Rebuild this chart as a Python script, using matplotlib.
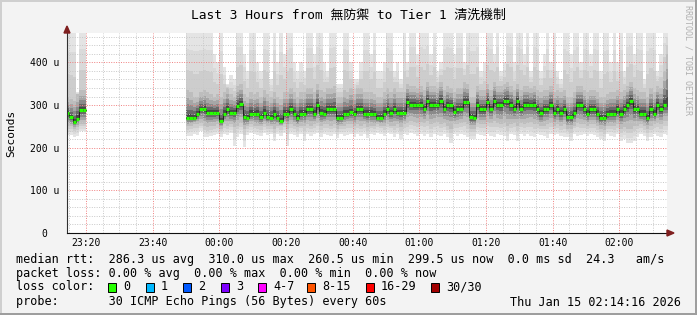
import matplotlib
matplotlib.use("Agg")
import matplotlib.pyplot as plt
import numpy as np
from matplotlib.patches import Rectangle, Polygon
from matplotlib.transforms import ScaledTranslation

MONO = ['DejaVu Sans Mono', 'Noto Sans CJK TC']

TITLE = "Last 3 Hours from 無防禦 to Tier 1 清洗機制"
WINDOW = ("23:14:16", "02:14:16")
X_LABELS = ["23:20", "23:40", "00:00", "00:20", "00:40", "01:00", "01:20", "01:40", "02:00"]
Y_TICKS = [0, 100, 200, 300, 400]          # microseconds
Y_LABELS = ["0", "100 u", "200 u", "300 u", "400 u"]

# one value per 60 s step, in microseconds
# run 1 (before the gap)
RUN1_START = "23:14"
RUN1_MED = [281, 271, 260, 268, 289, 289]
RUN1_LO = [230, 230, 225, 228, 240, 240]
RUN1_LO_MID = [250, 250, 245, 248, 255, 255]
RUN1_HI_MID = [320, 315, 310, 325, 335, 335]
RUN1_HI = [480, 480, 480, 330, 480, 480]

# run 2 (after the gap)
RUN2_START = "23:50"
RUN2_MED = [270, 270, 270, 280, 290, 290, 282, 282, 282, 282,
            262, 280, 290, 282, 282, 298, 302, 272, 270, 280,
            280, 280, 272, 282, 272, 270, 280, 270, 262, 280,
            280, 290, 280, 270, 280, 280, 290, 290, 280, 300,
            282, 280, 290, 290, 290, 270, 270, 280, 280, 283,
            280, 290, 290, 280, 280, 280, 280, 270, 270, 280,
            290, 282, 290, 282, 282, 282, 308, 300, 300, 300,
            300, 290, 310, 300, 300, 300, 310, 290, 300, 300,
            283, 290, 290, 308, 308, 271, 270, 300, 290, 290,
            308, 290, 310, 300, 300, 310, 310, 300, 290, 310,
            290, 300, 300, 300, 300, 290, 282, 290, 290, 300,
            282, 290, 282, 290, 271, 271, 282, 300, 300, 290,
            280, 290, 290, 280, 270, 270, 278, 280, 280, 290,
            280, 290, 300, 310, 290, 290, 280, 280, 270, 290,
            280, 300, 290, 300, 300]
RUN2_LO = [228, 228, 232, 230, 240, 225, 225, 228, 230, 232,
           225, 232, 230, 235, 205, 225, 232, 202, 230, 235,
           232, 230, 228, 235, 230, 232, 215, 232, 228, 235,
           203, 232, 230, 225, 232, 215, 232, 228, 232, 235,
           225, 232, 230, 228, 232, 222, 232, 228, 230, 232,
           225, 232, 228, 232, 222, 232, 230, 235, 232, 228,
           235, 232, 225, 232, 220, 232, 230, 235, 232, 228,
           232, 228, 232, 225, 232, 230, 228, 232, 225, 211,
           232, 228, 232, 230, 225, 220, 220, 232, 230, 228,
           232, 228, 225, 232, 230, 228, 215, 232, 230, 215,
           232, 228, 232, 228, 225, 232, 230, 228, 222, 232,
           230, 232, 228, 225, 225, 215, 232, 228, 230, 232,
           228, 232, 230, 225, 220, 215, 232, 228, 225, 232,
           215, 220, 211, 210, 215, 225, 232, 228, 215, 225,
           232, 228, 225, 232, 230]
RUN2_LO_MID = [250, 252, 255, 255, 258, 250, 248, 250, 252, 255,
               245, 255, 252, 255, 248, 252, 258, 245, 250, 255,
               252, 250, 250, 255, 252, 250, 245, 252, 250, 255,
               245, 255, 252, 248, 252, 250, 255, 252, 255, 258,
               250, 255, 255, 252, 255, 245, 250, 252, 255, 255,
               250, 255, 252, 255, 248, 252, 250, 255, 252, 250,
               255, 252, 250, 255, 248, 255, 258, 262, 260, 258,
               260, 258, 262, 255, 258, 260, 255, 258, 250, 245,
               255, 255, 258, 260, 255, 245, 245, 258, 255, 255,
               260, 258, 262, 258, 255, 258, 250, 255, 258, 250,
               258, 255, 258, 260, 255, 255, 250, 252, 255, 258,
               252, 255, 250, 255, 245, 245, 252, 258, 255, 255,
               252, 255, 255, 250, 245, 242, 250, 252, 250, 255,
               245, 248, 245, 245, 250, 252, 255, 250, 245, 250,
               255, 258, 255, 262, 262]
RUN2_HI_MID = [335, 330, 320, 320, 330, 335, 330, 325, 320, 325,
               320, 330, 340, 325, 320, 345, 350, 325, 320, 330,
               325, 330, 320, 335, 325, 320, 330, 320, 315, 330,
               330, 340, 330, 320, 330, 330, 340, 340, 330, 350,
               335, 330, 340, 340, 345, 320, 320, 335, 330, 340,
               325, 340, 340, 330, 330, 330, 325, 320, 320, 330,
               340, 330, 340, 330, 330, 330, 350, 345, 345, 340,
               345, 335, 355, 345, 345, 340, 355, 335, 345, 340,
               330, 340, 340, 355, 350, 320, 320, 345, 335, 335,
               350, 335, 355, 345, 345, 350, 355, 345, 335, 350,
               335, 345, 345, 340, 345, 335, 330, 335, 335, 345,
               330, 335, 330, 335, 320, 320, 330, 345, 345, 335,
               330, 335, 335, 330, 320, 320, 325, 330, 330, 335,
               330, 335, 345, 355, 340, 335, 330, 330, 320, 340,
               330, 345, 340, 380, 420]
RUN2_HI = [480, 480, 480, 480, 480, 480, 480, 480, 420, 400,
           480, 390, 350, 370, 360, 480, 480, 420, 380, 480,
           480, 400, 380, 480, 480, 360, 480, 400, 480, 420,
           480, 480, 400, 380, 400, 380, 480, 480, 420, 480,
           480, 400, 380, 480, 480, 350, 350, 480, 480, 400,
           360, 360, 400, 480, 480, 420, 480, 380, 380, 400,
           480, 480, 380, 400, 360, 480, 400, 480, 480, 420,
           480, 480, 480, 420, 480, 380, 400, 480, 480, 480,
           420, 480, 480, 400, 480, 480, 480, 480, 380, 400,
           480, 480, 420, 480, 380, 400, 480, 480, 400, 480,
           480, 420, 480, 380, 480, 480, 380, 420, 480, 400,
           480, 380, 360, 480, 480, 420, 480, 480, 400, 480,
           480, 420, 480, 480, 380, 480, 480, 400, 480, 400,
           480, 380, 480, 480, 420, 480, 480, 360, 480, 480,
           480, 380, 420, 480, 480]

LOSS_LABELS = ["0", "1", "2", "3", "4-7", "8-15", "16-29", "30/30"]
LOSS_COLORS = ['#26ff00', '#00b8ff', '#0059ff', '#7e00ff', '#ff00ff', '#ff5500', '#ff0000', '#a10000']

OUTER_SHADES = ['#e4e4e4', '#dadada', '#cdcdcd', '#bdbdbd']
INNER_SHADES = ['#a6a6a6', '#8a8a8a', '#686868', '#464646']

W, H = 697, 315


def minutes(hhmm):
    parts = [int(p) for p in hhmm.split(':')] + [0]
    m = parts[0] * 60 + parts[1] + parts[2] / 60
    return m - 1440 if parts[0] >= 12 else m


def fx(px):
    return px / W


def fy(py):
    return 1 - py / H


fig = plt.figure(figsize=(W / 100, H / 100), dpi=100, facecolor='#f3f3f3')
ax = fig.add_axes([fx(67), fy(233), 600 / W, 200 / H])
ax.set_facecolor('white')


def draw_run(start, med, lo, lo_mid, hi_mid, hi):
    edges = minutes(start) + np.arange(len(med) + 1)
    ext = lambda a: np.append(np.asarray(a, float), a[-1])
    m, l, lm, hm, h = map(ext, (med, lo, lo_mid, hi_mid, hi))
    for f, c in zip([0, 1 / 3, 2 / 3, 1], OUTER_SHADES):
        ax.fill_between(edges, l + (lm - l) * f, h - (h - hm) * f, step='post',
                        color=c, lw=0, zorder=1)
    for g, c in zip([0.3, 0.5, 0.7, 0.85], INNER_SHADES):
        ax.fill_between(edges, lm + (m - lm) * g, hm - (hm - m) * g, step='post',
                        color=c, lw=0, zorder=1.1)
    ax.step(edges, m, where='post', color='#202020', lw=0.7, zorder=2.8)
    ax.hlines(med, edges[:-1], edges[1:], colors=LOSS_COLORS[0], lw=2.3,
              capstyle='butt', zorder=3)


draw_run(RUN1_START, RUN1_MED, RUN1_LO, RUN1_LO_MID, RUN1_HI_MID, RUN1_HI)
draw_run(RUN2_START, RUN2_MED, RUN2_LO, RUN2_LO_MID, RUN2_HI_MID, RUN2_HI)

ax.set_xlim(minutes(WINDOW[0]), minutes(WINDOW[1]))
ax.set_ylim(0, 469)

ax.set_xticks([minutes(t) for t in X_LABELS])
ax.set_xticklabels(X_LABELS, family=MONO, fontsize=7)
ax.set_xticks(np.arange(-45, 135, 5), minor=True)
ax.set_yticks(Y_TICKS)
ax.set_yticklabels(Y_LABELS, family=MONO, fontsize=7)
ax.set_yticks(np.arange(0, 469, 20), minor=True)
ax.tick_params(which='both', length=0)
ax.tick_params(axis='x', pad=3.5)
ax.tick_params(axis='y', pad=5.5)
# rrdtool keeps the bare zero under the digits, not under the unit
ax.get_yticklabels()[0].set_transform(
    ax.get_yticklabels()[0].get_transform() + ScaledTranslation(-0.12, 0, fig.dpi_scale_trans))

ax.set_axisbelow(False)
ax.grid(which='minor', color='#c8c8c8', lw=0.7, linestyle=(0, (1, 1.5)))
ax.grid(which='major', color='#f08080', lw=0.7, linestyle=(0, (1, 1.5)))

for side in ('top', 'right'):
    ax.spines[side].set_visible(False)
ax.spines['left'].set_color('#303030')
ax.spines['bottom'].set_color('#101010')
ax.spines['left'].set_linewidth(0.8)
ax.spines['bottom'].set_linewidth(0.8)
ax.spines['left'].set_zorder(4)
ax.spines['bottom'].set_zorder(4)

# axis arrows
arrow = '#7f1f1f'
fig.add_artist(Polygon([(fx(64), fy(33)), (fx(70), fy(33)), (fx(67), fy(26))],
                       closed=True, color=arrow, transform=fig.transFigure))
fig.add_artist(Polygon([(fx(667), fy(230)), (fx(667), fy(236)), (fx(674), fy(233))],
                       closed=True, color=arrow, transform=fig.transFigure))

fig.text(fx(348), fy(15), TITLE, family=MONO, fontsize=9.3, ha='center', va='center')
fig.text(fx(11), fy(133), "Seconds", family=MONO, fontsize=8, rotation=90,
         ha='center', va='center')
fig.text(fx(688), fy(5), "RRDTOOL / TOBI OETIKER", family=MONO, fontsize=6,
         rotation=270, ha='center', va='top', color='#b0b0b0')


def legend_text(x, y, s, **kw):
    fig.text(fx(x), fy(y), s, family=MONO, fontsize=kw.pop('fontsize', 8.5), va='center', **kw)


legend_text(16, 259, "median rtt:  286.3 us avg  310.0 us max  260.5 us min  "
                     "299.5 us now  0.0 ms sd  24.3   am/s")
legend_text(16, 273, "packet loss: 0.00 % avg  0.00 % max  0.00 % min  0.00 % now")
legend_text(16, 287, "loss color:")
for x, lab, col in zip([108, 146, 183, 221, 258, 307, 366, 431], LOSS_LABELS, LOSS_COLORS):
    fig.add_artist(Rectangle((fx(x), fy(291.5)), 8 / W, 9 / H, facecolor=col,
                             edgecolor='black', lw=0.7, transform=fig.transFigure))
    legend_text(x + 15, 287, lab)
legend_text(16, 302, "probe:       30 ICMP Echo Pings (56 Bytes) every 60s")
legend_text(681, 302, "Thu Jan 15 02:14:16 2026", ha='right')

# rrdtool's bevelled frame
fig.add_artist(Rectangle((0, fy(2)), 1, 2 / H, color='#cfcfcf', transform=fig.transFigure, lw=0))
fig.add_artist(Rectangle((0, 0), 2 / W, 1, color='#cfcfcf', transform=fig.transFigure, lw=0))
fig.add_artist(Rectangle((0, 0), 1, 2 / H, color='#9e9e9e', transform=fig.transFigure, lw=0))
fig.add_artist(Rectangle((fx(695), 0), 2 / W, 1, color='#9e9e9e', transform=fig.transFigure, lw=0))

fig.savefig("out.png", dpi=100, facecolor=fig.get_facecolor())
